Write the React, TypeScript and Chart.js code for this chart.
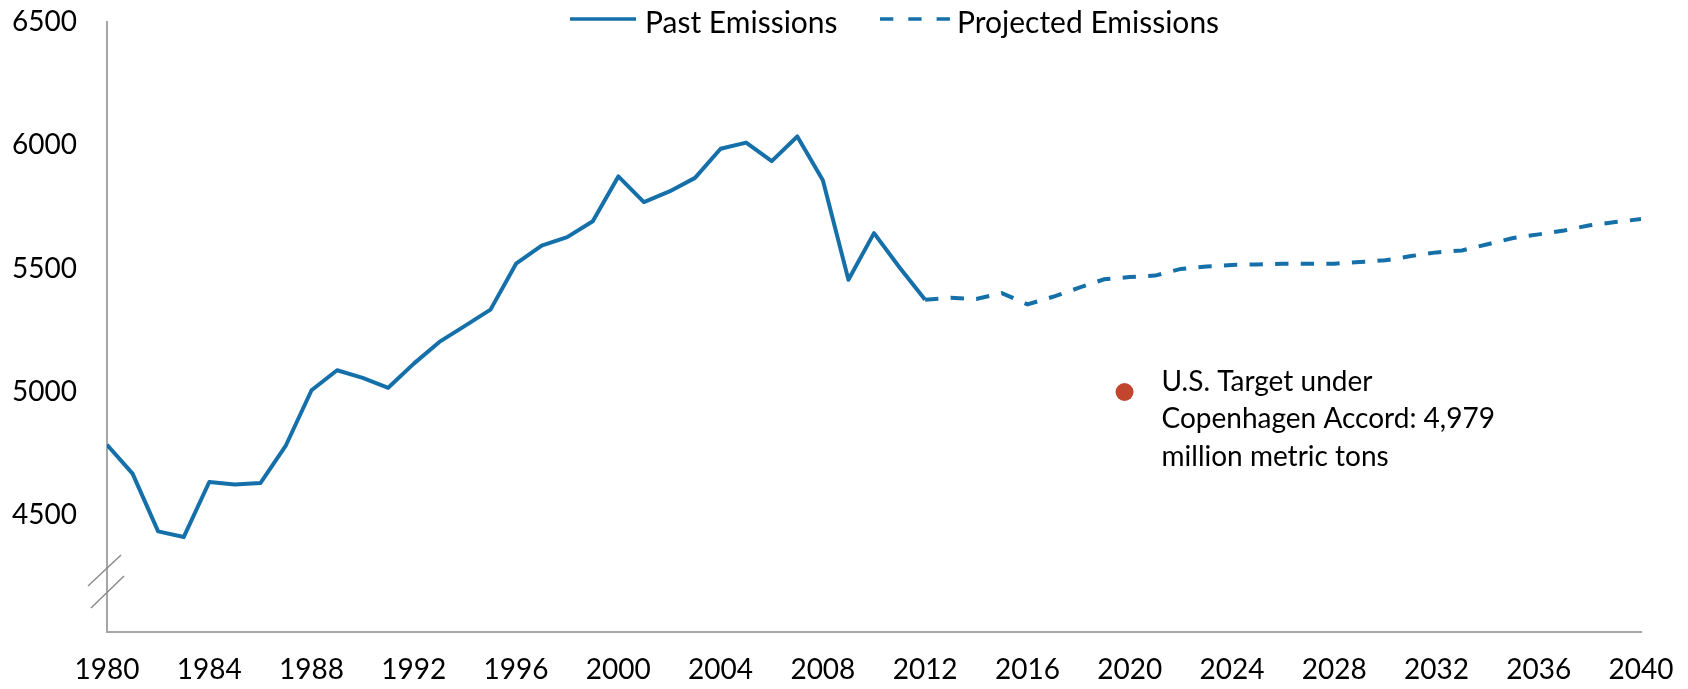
import React, { useEffect, useRef } from 'react';
import { Chart, registerables } from 'chart.js';

Chart.register(...registerables);

const FONT = 'Lato, "Open Sans", "Noto Sans", sans-serif';
const LINE_COLOR = '#1570AA';
const TARGET_COLOR = '#C2452D';
const AXIS_COLOR = '#A6A6A6';

const pastYears = [1980, 1981, 1982, 1983, 1984, 1985, 1986, 1987, 1988, 1989, 1990, 1991, 1992, 1993, 1994, 1995, 1996, 1997, 1998, 1999, 2000, 2001, 2002, 2003, 2004, 2005, 2006, 2007, 2008, 2009, 2010, 2011, 2012];
const pastEmissions = [4786, 4669, 4435, 4412, 4635, 4625, 4631, 4784, 5007, 5088, 5057, 5017, 5115, 5203, 5268, 5334, 5520, 5593, 5628, 5692, 5874, 5770, 5813, 5868, 5986, 6011, 5936, 6036, 5858, 5455, 5644, 5505, 5374];

const projectedYears = [2012, 2013, 2014, 2015, 2016, 2017, 2018, 2019, 2020, 2021, 2022, 2023, 2024, 2025, 2026, 2027, 2028, 2029, 2030, 2031, 2032, 2033, 2034, 2035, 2036, 2037, 2038, 2039, 2040];
const projectedEmissions = [5374, 5382, 5377, 5401, 5355, 5386, 5422, 5457, 5466, 5472, 5499, 5509, 5515, 5517, 5520, 5520, 5520, 5527, 5534, 5551, 5566, 5574, 5599, 5624, 5639, 5655, 5676, 5689, 5701];

const targetYear = [2019.8];
const targetValue = [5000];

const xTickValues = [1980, 1984, 1988, 1992, 1996, 2000, 2004, 2008, 2012, 2016, 2020, 2024, 2028, 2032, 2036, 2040];
const yTickValues = [4500, 5000, 5500, 6000, 6500];

const legendLabels = ['Past Emissions', 'Projected Emissions'];
const annotationLines = ['U.S. Target under', 'Copenhagen Accord: 4,979', 'million metric tons'];

const decorPlugin = {
  id: 'decor',
  afterDraw(chart: any) {
    const ctx = chart.ctx as CanvasRenderingContext2D;
    const area = chart.chartArea;
    const xs = chart.scales.x;
    const ys = chart.scales.y;
    ctx.save();

    // axis break marks
    ctx.strokeStyle = '#8C8C8C';
    ctx.lineWidth = 1.5;
    const bx = area.left;
    ctx.beginPath();
    ctx.moveTo(bx - 19, 586);
    ctx.lineTo(bx + 14, 555);
    ctx.moveTo(bx - 16, 608);
    ctx.lineTo(bx + 17, 576);
    ctx.stroke();

    // legend
    ctx.font = `30px ${FONT}`;
    ctx.fillStyle = '#000';
    ctx.textBaseline = 'alphabetic';
    ctx.textAlign = 'left';
    ctx.strokeStyle = LINE_COLOR;
    ctx.lineWidth = 3.5;
    ctx.lineCap = 'butt';
    ctx.setLineDash([]);
    ctx.beginPath();
    ctx.moveTo(570, 19);
    ctx.lineTo(636, 19);
    ctx.stroke();
    ctx.fillText(legendLabels[0], 645, 33);
    ctx.setLineDash([13.3, 15]);
    ctx.beginPath();
    ctx.moveTo(880, 19);
    ctx.lineTo(950, 19);
    ctx.stroke();
    ctx.setLineDash([]);
    ctx.fillText(legendLabels[1], 957, 33);

    // annotation text next to target point
    const px = xs.getPixelForValue(targetYear[0]);
    const py = ys.getPixelForValue(targetValue[0]);
    ctx.font = `28px ${FONT}`;
    annotationLines.forEach((line, i) => {
      ctx.fillText(line, px + 37, py - 1 + i * 37.5);
    });
    ctx.restore();
  },
};

export default function App() {
  const canvasRef = useRef<HTMLCanvasElement | null>(null);

  useEffect(() => {
    const canvas = canvasRef.current;
    if (!canvas) return;
    const chart = new Chart(canvas, {
      type: 'line',
      data: {
        datasets: [
          {
            label: legendLabels[0],
            data: pastYears.map((x, i) => ({ x, y: pastEmissions[i] })),
            borderColor: LINE_COLOR,
            borderWidth: 4,
            pointRadius: 0,
            tension: 0,
            borderJoinStyle: 'round',
            fill: false,
          },
          {
            label: legendLabels[1],
            data: projectedYears.map((x, i) => ({ x, y: projectedEmissions[i] })),
            borderColor: LINE_COLOR,
            borderWidth: 4,
            borderDash: [13.3, 12.3],
            borderCapStyle: 'butt',
            pointRadius: 0,
            tension: 0,
            fill: false,
          },
          {
            type: 'scatter',
            label: 'Target',
            data: targetYear.map((x, i) => ({ x, y: targetValue[i] })),
            backgroundColor: TARGET_COLOR,
            borderColor: TARGET_COLOR,
            pointRadius: 9,
            borderWidth: 0,
          },
        ] as any,
      },
      options: {
        animation: false,
        responsive: false,
        devicePixelRatio: 1,
        layout: { padding: { left: 0, right: 47, top: 22, bottom: 0 } },
        plugins: {
          legend: { display: false },
          tooltip: { enabled: false },
        },
        scales: {
          x: {
            type: 'linear',
            min: 1980,
            max: 2040,
            grid: { display: false, drawTicks: false },
            border: { display: true, color: AXIS_COLOR, width: 2 },
            afterBuildTicks: (scale: any) => {
              scale.ticks = xTickValues.map((v) => ({ value: v }));
            },
            afterFit: (scale: any) => {
              scale.height = 57;
              scale.paddingLeft = 0;
              scale.paddingRight = 0;
            },
            ticks: {
              autoSkip: false,
              maxRotation: 0,
              padding: 21,
              color: '#000',
              font: { family: FONT, size: 28 },
              callback: (v: any) => String(v),
            },
          },
          y: {
            type: 'linear',
            min: 4027,
            max: 6500,
            grid: { display: false, drawTicks: false },
            border: { display: true, color: AXIS_COLOR, width: 2 },
            afterBuildTicks: (scale: any) => {
              scale.ticks = yTickValues.map((v) => ({ value: v }));
            },
            afterFit: (scale: any) => {
              scale.width = 107;
              scale.paddingTop = 0;
              scale.paddingBottom = 0;
            },
            ticks: {
              padding: 30,
              color: '#000',
              font: { family: FONT, size: 28 },
              callback: (v: any) => String(v),
            },
          },
        },
      },
      plugins: [decorPlugin],
    } as any);
    return () => chart.destroy();
  }, []);

  return (
    <div style={{ position: 'absolute', left: 0, top: 0, width: 1688, height: 689, background: '#fff' }}>
      <canvas ref={canvasRef} width={1688} height={689} style={{ width: 1688, height: 689, display: 'block' }} />
    </div>
  );
}
